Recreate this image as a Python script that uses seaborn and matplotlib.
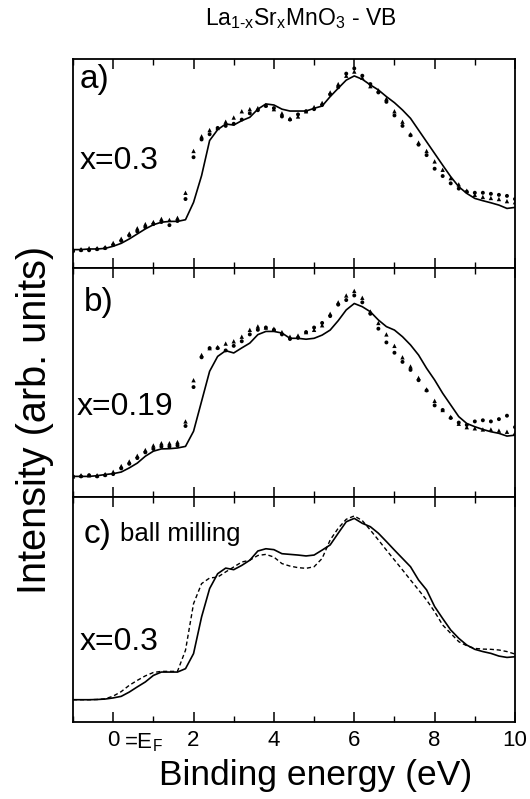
import pandas as pd
import matplotlib
matplotlib.use("Agg")
import matplotlib.pyplot as plt
import matplotlib.ticker as ticker
import seaborn as sns

# binding energy grid (eV) the curves were read on
energy = [-1.0, -0.8, -0.6, -0.4, -0.2, 0.0, 0.2, 0.4, 0.6, 0.8,
          1.0, 1.2, 1.4, 1.6, 1.8, 2.0, 2.2, 2.4, 2.6, 2.8,
          3.0, 3.2, 3.4, 3.6, 3.8, 4.0, 4.2, 4.4, 4.6, 4.8,
          5.0, 5.2, 5.4, 5.6, 5.8, 6.0, 6.2, 6.4, 6.6, 6.8,
          7.0, 7.2, 7.4, 7.6, 7.8, 8.0, 8.2, 8.4, 8.6, 8.8,
          9.0, 9.2, 9.4, 9.6, 9.8, 10.0]

# panel a) x=0.3
a_solid = [8.8, 8.8, 9.1, 9.1, 9.4, 10.4, 11.8, 13.9, 16.3, 18.7,
           20.7, 21.9, 22.3, 22.3, 23.1, 31.4, 44.2, 61.0, 66.2, 68.9,
           68.4, 70.5, 72.1, 76.0, 78.5, 78.0, 76.0, 75.1, 75.1, 75.1,
           76.4, 77.5, 82.0, 86.0, 89.9, 91.9, 90.3, 87.6, 85.2, 82.0,
           79.1, 75.6, 71.6, 66.0, 60.4, 54.8, 49.2, 43.7, 38.9, 35.7,
           33.3, 32.2, 31.2, 30.1, 28.5, 29.0]
a_circ = [8.0, 8.5, 8.5, 9.0, 9.5, 11.0, 13.0, 15.5, 17.5, 19.5,
          21.0, 22.0, 20.5, 22.5, 33.0, 53.0, 61.5, 64.0, 67.0, 68.0,
          69.0, 71.0, 74.0, 75.5, 77.5, 76.5, 72.5, 71.0, 73.5, 75.0,
          76.0, 78.0, 83.0, 86.5, 93.0, 95.5, 92.0, 88.0, 84.0, 79.5,
          73.0, 68.0, 63.5, 59.0, 54.0, 47.5, 44.0, 40.5, 38.0, 36.5,
          36.0, 36.0, 35.5, 35.0, 34.5, 33.0]
a_tri = [9.0, 9.0, 9.5, 9.5, 10.0, 12.0, 14.0, 16.5, 19.0, 21.0,
         22.0, 23.5, 23.0, 24.0, 36.0, 56.0, 63.0, 66.0, 67.0, 70.0,
         72.0, 75.0, 76.0, 76.5, 78.0, 76.0, 74.0, 71.5, 72.5, 75.0,
         77.0, 79.0, 84.0, 88.0, 92.0, 94.0, 91.0, 87.0, 85.0, 81.0,
         75.0, 70.0, 64.0, 60.0, 56.0, 51.0, 47.0, 43.0, 40.0, 37.0,
         35.0, 34.0, 33.5, 33.0, 32.0, 31.5]

# panel b) x=0.19
b_solid = [9.0, 9.0, 9.0, 9.3, 9.8, 10.2, 10.9, 12.7, 14.8, 17.8,
           20.0, 21.0, 21.1, 21.4, 22.1, 28.7, 41.8, 54.9, 61.4, 63.9,
           62.9, 65.1, 67.2, 70.9, 72.3, 72.3, 71.6, 69.3, 69.3, 68.9,
           69.3, 70.7, 72.9, 77.0, 81.7, 84.5, 83.1, 80.9, 77.3, 74.4,
           72.9, 70.0, 66.4, 62.0, 56.2, 51.1, 45.3, 40.2, 35.1, 32.1,
           30.7, 29.5, 28.5, 27.8, 26.6, 27.0]
b_circ = [9.0, 9.0, 9.5, 9.0, 9.5, 10.0, 12.5, 14.5, 17.0, 19.5,
          21.0, 22.0, 22.0, 22.5, 31.0, 48.0, 61.0, 65.0, 65.0, 64.0,
          66.0, 68.0, 71.0, 73.0, 74.0, 73.0, 71.0, 69.0, 69.5, 72.0,
          74.0, 76.0, 79.0, 84.0, 86.0, 88.0, 85.0, 80.0, 73.5, 67.5,
          63.0, 59.0, 55.5, 51.0, 46.5, 40.0, 38.0, 34.5, 32.5, 31.5,
          33.0, 33.5, 33.0, 34.0, 35.5, 30.5]
b_tri = [9.0, 9.5, 9.5, 9.5, 10.0, 11.0, 13.5, 15.5, 18.0, 20.5,
         22.5, 23.5, 23.5, 24.0, 33.0, 51.0, 62.0, 65.0, 65.5, 67.0,
         68.0, 70.0, 73.0, 74.5, 74.0, 73.5, 72.0, 70.0, 70.5, 72.0,
         73.0, 75.0, 80.0, 85.0, 88.0, 90.0, 87.0, 81.0, 76.0, 71.0,
         66.0, 61.0, 57.0, 52.0, 47.0, 42.0, 38.0, 35.0, 32.0, 30.5,
         30.0, 29.5, 29.5, 29.0, 28.5, 28.0]

# panel c) ball milling, x=0.3
c_solid = [9.9, 9.9, 9.9, 10.0, 10.2, 10.7, 11.4, 13.3, 15.6, 17.8,
           20.7, 22.2, 22.2, 22.2, 23.7, 30.4, 46.7, 59.3, 65.9, 68.4,
           67.7, 69.6, 71.9, 76.0, 77.0, 76.6, 74.8, 74.5, 74.2, 73.8,
           74.2, 76.4, 78.7, 83.9, 89.0, 90.5, 88.3, 86.8, 83.9, 80.2,
           76.4, 72.7, 69.0, 63.1, 58.7, 51.3, 46.0, 40.9, 37.2, 34.2,
           32.3, 31.3, 30.5, 29.3, 28.7, 29.0]
c_dash = [9.9, 9.9, 9.9, 10.0, 10.3, 11.5, 13.5, 16.3, 18.5, 20.5,
          22.0, 22.5, 22.5, 22.5, 31.9, 52.6, 61.5, 64.0, 64.4, 66.7,
          68.9, 71.1, 71.9, 74.0, 74.5, 73.3, 70.4, 69.3, 68.6, 68.3,
          69.0, 72.7, 80.9, 86.1, 90.1, 91.6, 89.5, 85.3, 80.9, 76.4,
          72.0, 67.6, 63.1, 58.7, 54.2, 49.0, 43.1, 39.4, 35.7, 33.9,
          32.7, 32.4, 32.3, 32.0, 31.3, 30.2]

tick_values = [0, 2, 4, 6, 8, 10]
tick_labels = ["0", "2", "4", "6", "8", "10"]

sns.set_style("ticks")
plt.rcParams['font.family'] = ['Liberation Sans', 'DejaVu Sans']
plt.rcParams['mathtext.fontset'] = 'custom'
plt.rcParams['mathtext.rm'] = 'Liberation Sans'
plt.rcParams['mathtext.it'] = 'Liberation Sans'
plt.rcParams['text.color'] = 'black'
plt.rcParams['xtick.color'] = 'black'
plt.rcParams['xtick.labelcolor'] = 'black'

df_a = pd.DataFrame({"energy": energy, "solid": a_solid, "circ": a_circ, "tri": a_tri})
df_b = pd.DataFrame({"energy": energy, "solid": b_solid, "circ": b_circ, "tri": b_tri})
df_c = pd.DataFrame({"energy": energy, "solid": c_solid, "dash": c_dash})

fig = plt.figure(figsize=(5.3, 7.99), dpi=100)
W, H = 530, 799
left, right = 73 / W, 515 / W
edges = [59, 268, 497, 722]
axes = []
for i in range(3):
    top = 1 - edges[i] / H
    bot = 1 - edges[i + 1] / H
    axes.append(fig.add_axes([left, bot, right - left, top - bot]))

ax_a, ax_b, ax_c = axes

for ax, df in [(ax_a, df_a), (ax_b, df_b)]:
    sns.lineplot(data=df, x="energy", y="solid", ax=ax, color="k", lw=1.2,
                 estimator=None, sort=False)
    sns.scatterplot(data=df, x="energy", y="circ", ax=ax, marker="o", s=8,
                    color="k", edgecolor="none")
    sns.scatterplot(data=df, x="energy", y="tri", ax=ax, marker="^", s=10,
                    color="k", edgecolor="none")

sns.lineplot(data=df_c, x="energy", y="solid", ax=ax_c, color="k", lw=1.2,
             estimator=None, sort=False)
sns.lineplot(data=df_c, x="energy", y="dash", ax=ax_c, color="k", lw=1.0,
             estimator=None, sort=False, linestyle=(0, (3, 2)))

for i, ax in enumerate(axes):
    ax.set_xlim(-1, 10)
    ax.set_ylim(0, 100)
    ax.set_xlabel("")
    ax.set_ylabel("")
    ax.set_yticks([])
    ax.xaxis.set_major_locator(ticker.FixedLocator(tick_values))
    ax.xaxis.set_minor_locator(ticker.MultipleLocator(1))
    ax.tick_params(axis="x", which="major", direction="in", top=True, bottom=True,
                   length=7, width=1.1, pad=6, labelsize=16, colors="k")
    ax.tick_params(axis="x", which="minor", direction="in", top=True, bottom=True,
                   length=4, width=1.0, colors="k")
    for sp in ax.spines.values():
        sp.set_linewidth(1.3)
        sp.set_color("k")
    if i < 2:
        ax.tick_params(axis="x", labelbottom=False)
    else:
        ax.set_xticklabels(tick_labels)

ax_c.text(0.27, -0.117, r"=E$_\mathregular{F}$", transform=ax_c.get_xaxis_transform(),
          fontsize=16, ha="left", va="baseline")

# panel annotations
ax_a.text(0.014, 0.90, "a)", transform=ax_a.transAxes, fontsize=24, va="center")
ax_a.text(0.016, 0.51, "x=0.3", transform=ax_a.transAxes, fontsize=23, va="center")
ax_b.text(0.024, 0.85, "b)", transform=ax_b.transAxes, fontsize=24, va="center")
ax_b.text(0.008, 0.393, "x=0.19", transform=ax_b.transAxes, fontsize=23, va="center")
ax_c.text(0.024, 0.835, "c)", transform=ax_c.transAxes, fontsize=24, va="center")
ax_c.text(0.107, 0.835, "ball milling", transform=ax_c.transAxes, fontsize=18.5, va="center")
ax_c.text(0.014, 0.355, "x=0.3", transform=ax_c.transAxes, fontsize=23, va="center")

fig.text(301 / W, 1 - 19 / H,
         r"La$_\text{1-x}$Sr$_\text{x}$MnO$_\text{3}$ - VB",
         fontsize=16.5, ha="center", va="center")
fig.text(316 / W, 1 - 775 / H, "Binding energy (eV)", fontsize=25.5,
         ha="center", va="center")
fig.text(35 / W, 1 - 420 / H, "Intensity (arb. units)", fontsize=28.5,
         rotation=90, ha="center", va="center")

fig.savefig("out.png", dpi=100)
